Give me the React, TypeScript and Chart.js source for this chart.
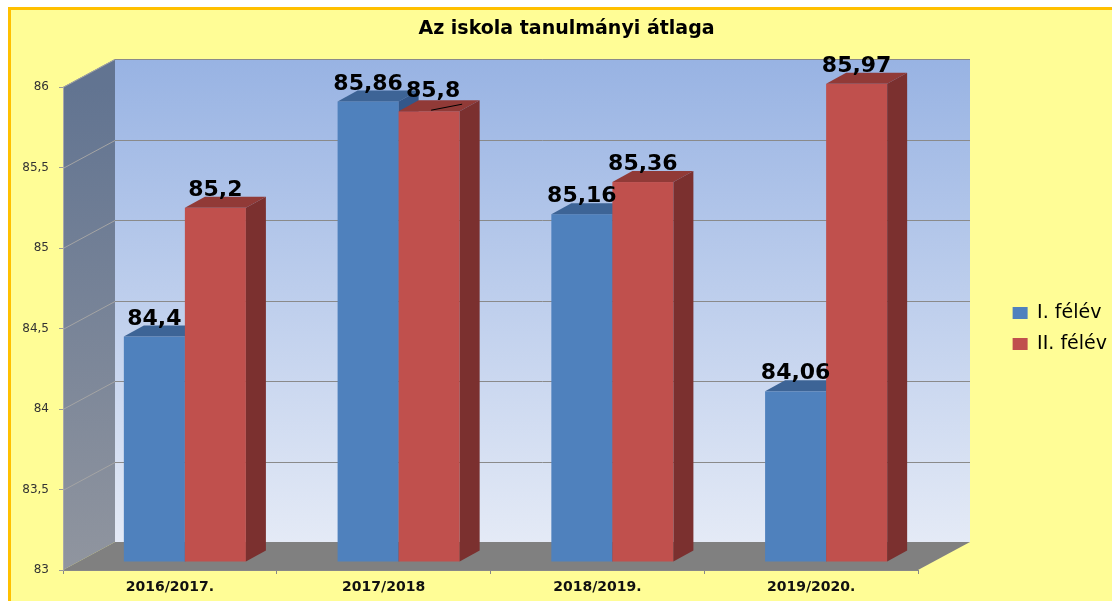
import React, { useEffect, useRef } from 'react';
import { Chart, registerables } from 'chart.js';

Chart.register(...registerables);

// ---------- data ----------
const TITLE = 'Az iskola tanulmányi átlaga';
const CATEGORIES = ['2016/2017.', '2017/2018', '2018/2019.', '2019/2020.'];
const SERIES_NAMES = ['I. félév', 'II. félév'];
const FIRST_HALF = [84.4, 85.86, 85.16, 84.06];
const SECOND_HALF = [85.2, 85.8, 85.36, 85.97];
const Y_MIN = 83;
const Y_MAX = 86;
const Y_STEP = 0.5;

// ---------- style ----------
const FONT = "'DejaVu Sans'";
const CANVAS_W = 1101;
const CANVAS_H = 591;
const PAD_LEFT = 5;
const PAD_RIGHT = -5;
const PLOT_LEFT = 52;
const PLOT_RIGHT = 907;
const PLOT_TOP = 77;
const PLOT_BOTTOM = 560;
const TITLE_SIZE = 19;
const LEGEND_SIZE = 19;
const LEGEND_PAD = 12;
const LEGEND_BOX_W = 15;
const LEGEND_EXTRA = 10; // Chart.js adds 10px to a vertical legend's width

const WALL_DX = 52;
const WALL_DY = -28;
const BAR_SHIFT_X = 15;
const BAR_SHIFT_Y = -8;
const BAR_DX = 20;
const BAR_DY = -11;

const BAR_COLORS = [
  { front: '#4F81BD', top: '#3D6496', side: '#33578A' },
  { front: '#C0504D', top: '#913A37', side: '#7B302F' },
];

const fmt = (v: number) => String(v).replace('.', ',');

const depthPlugin = {
  id: 'depth3d',
  beforeDraw(chart: any) {
    const { ctx, chartArea } = chart;
    const { left: L, right: R, top: T, bottom: B } = chartArea;
    const ys = chart.scales.y;
    ctx.save();
    // back wall
    let g = ctx.createLinearGradient(0, T + WALL_DY, 0, B + WALL_DY);
    g.addColorStop(0, '#98B3E3');
    g.addColorStop(1, '#E4EAF6');
    ctx.fillStyle = g;
    ctx.fillRect(L + WALL_DX, T + WALL_DY, R - L, B - T);
    // left wall
    g = ctx.createLinearGradient(0, T, 0, B);
    g.addColorStop(0, '#627491');
    g.addColorStop(1, '#90959F');
    ctx.fillStyle = g;
    ctx.beginPath();
    ctx.moveTo(L, T);
    ctx.lineTo(L + WALL_DX, T + WALL_DY);
    ctx.lineTo(L + WALL_DX, B + WALL_DY);
    ctx.lineTo(L, B);
    ctx.closePath();
    ctx.fill();
    // gridlines
    ctx.lineWidth = 1;
    ys.ticks.forEach((t: any) => {
      if (t.value <= Y_MIN) return;
      const y = Math.round(ys.getPixelForValue(t.value)) + 0.5;
      ctx.strokeStyle = '#8A8A8A';
      ctx.beginPath();
      ctx.moveTo(L + WALL_DX, y + WALL_DY);
      ctx.lineTo(R + WALL_DX, y + WALL_DY);
      ctx.stroke();
      ctx.strokeStyle = '#A4A4A4';
      ctx.beginPath();
      ctx.moveTo(L, y);
      ctx.lineTo(L + WALL_DX, y + WALL_DY);
      ctx.stroke();
    });
    // floor
    ctx.fillStyle = '#808080';
    ctx.beginPath();
    ctx.moveTo(L, B);
    ctx.lineTo(R, B);
    ctx.lineTo(R + WALL_DX, B + WALL_DY);
    ctx.lineTo(L + WALL_DX, B + WALL_DY);
    ctx.closePath();
    ctx.fill();
    ctx.restore();
  },
  beforeDatasetsDraw(chart: any) {
    const { ctx } = chart;
    const ys = chart.scales.y;
    const floorY = ys.getPixelForValue(Y_MIN);
    const metas = chart.data.datasets.map((_: any, i: number) => chart.getDatasetMeta(i));
    const labels: any[] = [];
    ctx.save();
    for (let j = 0; j < CATEGORIES.length; j++) {
      metas.forEach((meta: any, i: number) => {
        const bar = meta.data[j];
        if (!bar) return;
        const { x, y, base, width } = bar.getProps(['x', 'y', 'base', 'width'], true);
        const c = BAR_COLORS[i];
        const x0 = x - width / 2 + BAR_SHIFT_X;
        const x1 = x + width / 2 + BAR_SHIFT_X;
        const yt = y + BAR_SHIFT_Y;
        const yb = Math.min(base, floorY) + BAR_SHIFT_Y;
        ctx.fillStyle = c.front;
        ctx.fillRect(x0, yt, x1 - x0, yb - yt);
        ctx.fillStyle = c.top;
        ctx.beginPath();
        ctx.moveTo(x0, yt);
        ctx.lineTo(x1, yt);
        ctx.lineTo(x1 + BAR_DX, yt + BAR_DY);
        ctx.lineTo(x0 + BAR_DX, yt + BAR_DY);
        ctx.closePath();
        ctx.fill();
        ctx.fillStyle = c.side;
        ctx.beginPath();
        ctx.moveTo(x1, yt);
        ctx.lineTo(x1 + BAR_DX, yt + BAR_DY);
        ctx.lineTo(x1 + BAR_DX, yb + BAR_DY);
        ctx.lineTo(x1, yb);
        ctx.closePath();
        ctx.fill();
        const v = chart.data.datasets[i].data[j];
        labels.push({ cx: (x0 + x1) / 2, yt, v, i, j });
      });
    }
    ctx.fillStyle = '#000';
    ctx.font = `bold 22px ${FONT}`;
    ctx.textAlign = 'center';
    ctx.textBaseline = 'alphabetic';
    labels.forEach((l) => {
      // the one label Excel moved aside gets a leader line
      const moved = l.i === 1 && l.j === 1;
      ctx.fillText(fmt(l.v), l.cx + (moved ? 4 : 0), l.yt + BAR_DY - (moved ? 3 : 1));
      if (moved) {
        ctx.strokeStyle = '#000';
        ctx.lineWidth = 1;
        ctx.beginPath();
        ctx.moveTo(l.cx + 2, l.yt - 1);
        ctx.lineTo(l.cx + 33, l.yt - 7);
        ctx.stroke();
      }
    });
    ctx.restore();
    return false;
  },
};

export default function App() {
  const ref = useRef<HTMLCanvasElement | null>(null);
  useEffect(() => {
    if (!ref.current) return;
    const chart = new Chart(ref.current, {
      type: 'bar',
      data: {
        labels: CATEGORIES,
        datasets: [
          { label: SERIES_NAMES[0], data: FIRST_HALF, backgroundColor: BAR_COLORS[0].front, borderWidth: 0 },
          { label: SERIES_NAMES[1], data: SECOND_HALF, backgroundColor: BAR_COLORS[1].front, borderWidth: 0 },
        ],
      },
      options: {
        responsive: false,
        animation: false,
        devicePixelRatio: 1,
        events: [],
        datasets: { bar: { categoryPercentage: 0.571, barPercentage: 1, base: Y_MIN } },
        layout: { padding: { left: PAD_LEFT, right: PAD_RIGHT, top: 0, bottom: 0 } },
        plugins: {
          title: {
            display: true,
            text: TITLE,
            color: '#000',
            font: { family: FONT, size: TITLE_SIZE, weight: 'bold' },
            padding: { top: 8, bottom: PLOT_TOP - 8 - TITLE_SIZE * 1.2 },
          },
          legend: {
            display: true,
            position: 'right',
            fullSize: false,
            labels: {
              boxWidth: LEGEND_BOX_W,
              boxHeight: 12,
              padding: LEGEND_PAD,
              color: '#000',
              font: { family: FONT, size: LEGEND_SIZE },
            },
          },
          tooltip: { enabled: false },
        },
        scales: {
          x: {
            grid: { drawOnChartArea: false, drawTicks: true, tickLength: 4, color: '#888' },
            border: { display: true, color: '#888' },
            ticks: { color: '#111', padding: 5, font: { family: FONT, size: 14, weight: 'bold' } },
            afterFit: (s: any) => { s.height = CANVAS_H - PLOT_BOTTOM; },
          },
          y: {
            min: Y_MIN,
            max: Y_MAX,
            grid: { drawOnChartArea: false, drawTicks: true, tickLength: 4, color: '#999' },
            border: { display: true, color: '#A8A8A8' },
            ticks: {
              stepSize: Y_STEP,
              color: '#333',
              padding: 10,
              font: { family: FONT, size: 12 },
              callback: (v: any) => fmt(Number(v)),
            },
            afterFit: (s: any) => { s.width = PLOT_LEFT - PAD_LEFT; },
          },
          gap: {
            type: 'linear',
            position: 'right',
            display: true,
            grid: { display: false },
            border: { display: false },
            ticks: { display: false },
            afterFit: (s: any) => {
              const c = s.ctx;
              c.save();
              c.font = `normal ${LEGEND_SIZE}px ${FONT}`;
              const tw = Math.max(...SERIES_NAMES.map((n) => c.measureText(n).width));
              c.restore();
              const legendW = LEGEND_PAD + LEGEND_BOX_W + LEGEND_SIZE / 2 + tw + LEGEND_EXTRA;
              s.width = Math.max(0, s.chart.width - PAD_RIGHT - legendW - PLOT_RIGHT);
            },
          },
        },
      } as any,
      plugins: [depthPlugin],
    });
    return () => chart.destroy();
  }, []);

  return (
    <div
      style={{
        position: 'fixed',
        left: 8,
        top: 7,
        width: 1104,
        height: 594,
        boxSizing: 'border-box',
        borderTop: '3px solid #FFC000',
        borderLeft: '3px solid #FFC000',
        background: '#FFFD96',
        overflow: 'hidden',
      }}
    >
      <canvas ref={ref} width={CANVAS_W} height={CANVAS_H} style={{ display: 'block' }} />
    </div>
  );
}
